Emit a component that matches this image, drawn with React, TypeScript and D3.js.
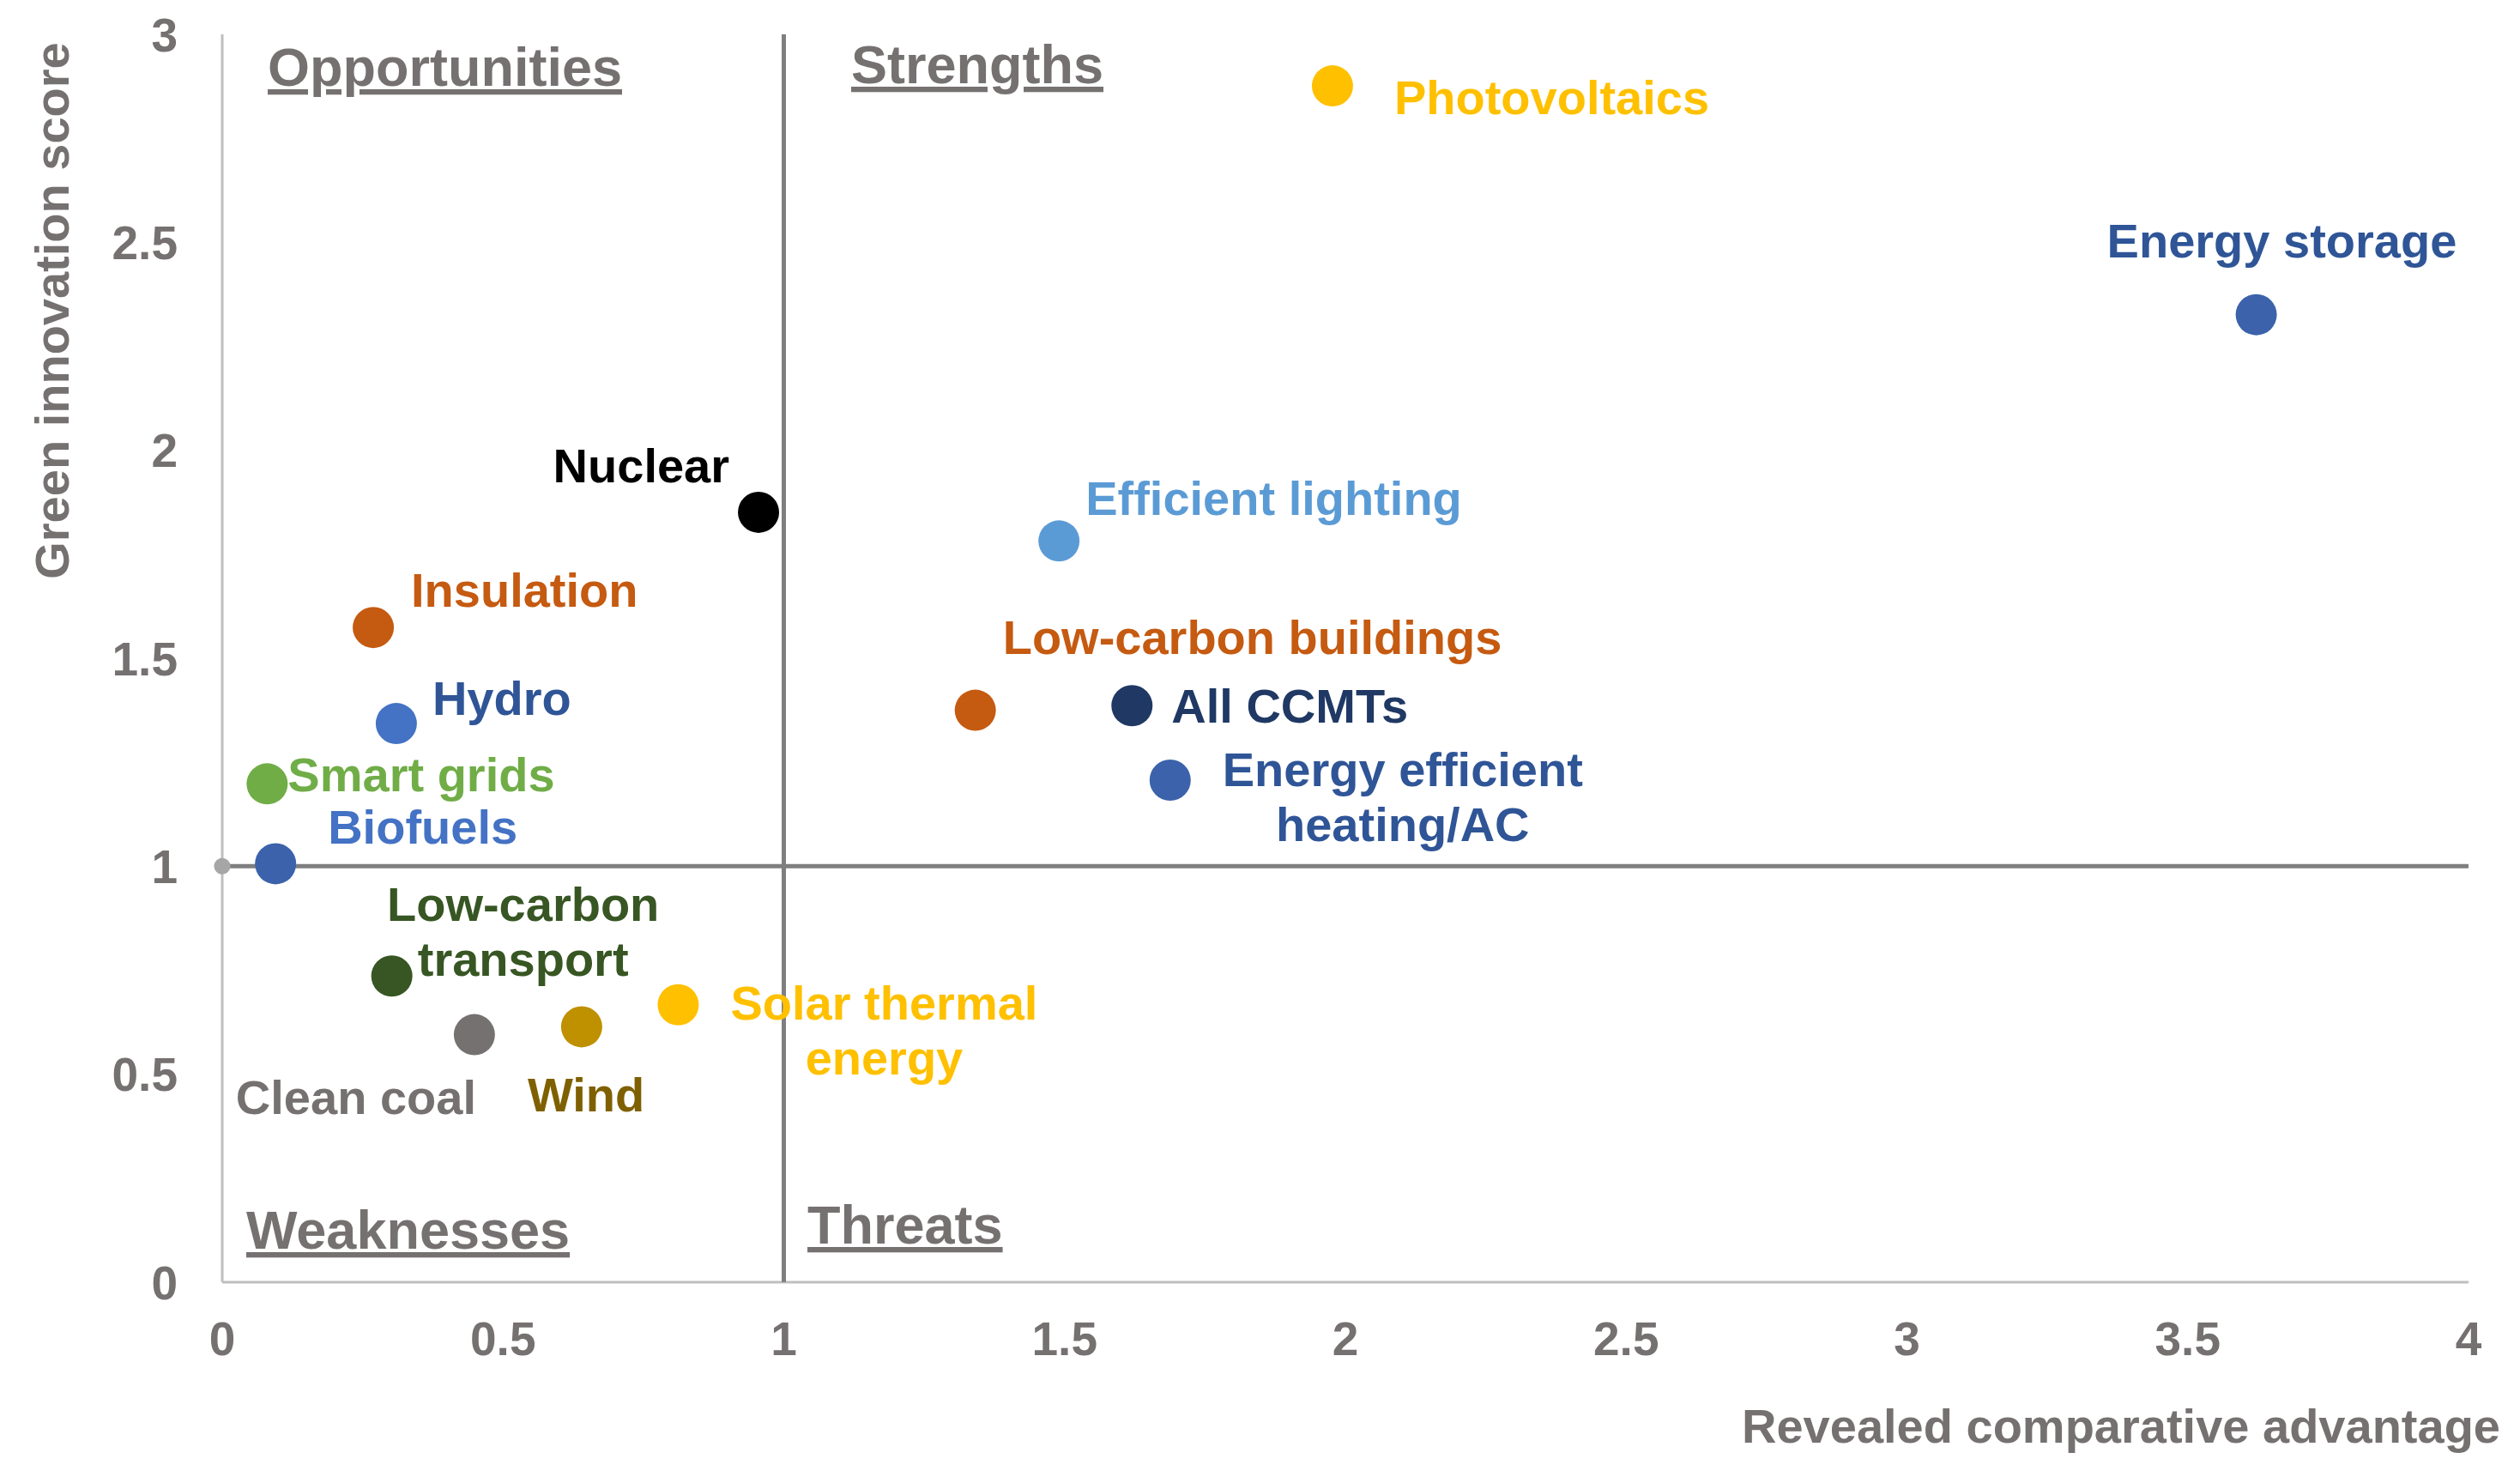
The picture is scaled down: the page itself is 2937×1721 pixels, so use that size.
import React from "react";
import * as d3 from "d3";

// ---------- data ----------
const technologies = [
  "Photovoltaics",
  "Energy storage",
  "Nuclear",
  "Efficient lighting",
  "Insulation",
  "Low-carbon buildings",
  "All CCMTs",
  "Hydro",
  "Energy efficient heating/AC",
  "Smart grids",
  "Biofuels",
  "Low-carbon transport",
  "Clean coal",
  "Wind",
  "Solar thermal energy",
];
const rcaValues = [1.977, 3.622, 0.955, 1.49, 0.269, 1.341, 1.62, 0.31, 1.688, 0.08, 0.095, 0.302, 0.449, 0.64, 0.812];
const innovationScores = [2.876, 2.326, 1.851, 1.782, 1.574, 1.375, 1.386, 1.343, 1.207, 1.198, 1.006, 0.736, 0.595, 0.614, 0.667];
const xTicks = [0, 0.5, 1, 1.5, 2, 2.5, 3, 3.5, 4];
const yTicks = [0, 0.5, 1, 1.5, 2, 2.5, 3];
const quadrantNames = ["Opportunities", "Strengths", "Weaknesses", "Threats"];

// ---------- styles / layout ----------
const dotColors = [
  "#FFC000", "#3B62AA", "#000000", "#5B9BD5", "#C55A11", "#C55A11", "#203864", "#4472C4",
  "#3B62AA", "#70AD47", "#3B62AA", "#375623", "#767171", "#BF9000", "#FFC000",
];
const labelColors = [
  "#FFC000", "#2F5597", "#000000", "#5B9BD5", "#C55A11", "#C55A11", "#203864", "#2F5597",
  "#2F5597", "#70AD47", "#4472C4", "#375623", "#767171", "#7F6000", "#FFC000",
];
// label placement relative to the point (pixels): [anchor, dx, dy(baseline of first line), lines]
const labelLayout: [string, number, number, string[]][] = [
  ["start", 72, 33, ["Photovoltaics"]],
  ["start", -174, -67, ["Energy storage"]],
  ["end", -34, -35, ["Nuclear"]],
  ["start", 31, -30, ["Efficient lighting"]],
  ["start", 44, -24, ["Insulation"]],
  ["start", 32, -66, ["Low-carbon buildings"]],
  ["start", 46, 20, ["All CCMTs"]],
  ["start", 42, -10, ["Hydro"]],
  ["middle", 271, 7, ["Energy efficient", "heating/AC"]],
  ["start", 24, 9, ["Smart grids"]],
  ["start", 61, -23, ["Biofuels"]],
  ["middle", 153, -64, ["Low-carbon", "transport"]],
  ["start", -278, 92, ["Clean coal"]],
  ["start", -63, 99, ["Wind"]],
  ["middle", 240, 17, ["Solar thermal", "energy"]],
];
const quadrantLayout: [number, number][] = [
  [312, 100],
  [992, 97],
  [287, 1455],
  [941, 1449],
];

const W = 2937;
const H = 1721;
const FONT = "'Liberation Sans', Arial, Helvetica, sans-serif";
const GREY_TEXT = "#767171";

export default function App() {
  const x = d3.scaleLinear().domain([0, 4]).range([259, 2877]);
  const y = d3.scaleLinear().domain([0, 3]).range([1494, 40]);

  return (
    <svg
      width={W}
      height={H}
      viewBox={`0 0 ${W} ${H}`}
      style={{ position: "absolute", left: 0, top: 0, background: "#fff" }}
      fontFamily={FONT}
      fontWeight="bold"
    >
      <rect width={W} height={H} fill="#fff" />
      {/* axes */}
      <line x1={x(0)} x2={x(0)} y1={y(0)} y2={y(3)} stroke="#BFBFBF" strokeWidth={3} />
      <line x1={x(0)} x2={x(4)} y1={y(0)} y2={y(0)} stroke="#BFBFBF" strokeWidth={3} />
      {/* quadrant lines */}
      <line x1={x(1)} x2={x(1)} y1={y(0)} y2={y(3)} stroke="#7F7F7F" strokeWidth={5} />
      <line x1={x(0)} x2={x(4)} y1={y(1)} y2={y(1)} stroke="#7F7F7F" strokeWidth={5} />
      <circle cx={x(0)} cy={y(1)} r={9.5} fill="#A6A6A6" />

      {/* ticks */}
      {yTicks.map((t) => (
        <text key={"y" + t} x={207} y={y(t)} dy="0.36em" textAnchor="end" fontSize={55} fill={GREY_TEXT}>
          {d3.format("~g")(t)}
        </text>
      ))}
      {xTicks.map((t) => (
        <text key={"x" + t} x={x(t)} y={1579} textAnchor="middle" fontSize={55} fill={GREY_TEXT}>
          {d3.format("~g")(t)}
        </text>
      ))}

      {/* axis titles */}
      <text x={2914} y={1681} textAnchor="end" fontSize={56} fill={GREY_TEXT}>
        Revealed comparative advantage
      </text>
      <text
        transform={`translate(80, 362) rotate(-90)`}
        textAnchor="middle"
        fontSize={56}
        fill={GREY_TEXT}
      >
        Green innovation score
      </text>

      {/* quadrant names */}
      {quadrantNames.map((q, i) => (
        <text
          key={q}
          x={quadrantLayout[i][0]}
          y={quadrantLayout[i][1]}
          fontSize={63}
          fill={GREY_TEXT}
          style={{ textDecoration: "underline" }}
        >
          {q}
        </text>
      ))}

      {/* points */}
      {technologies.map((name, i) => (
        <circle key={"c" + name} cx={x(rcaValues[i])} cy={y(innovationScores[i])} r={24} fill={dotColors[i]} />
      ))}

      {/* labels */}
      {technologies.map((name, i) => {
        const [anchor, dx, dy, lines] = labelLayout[i];
        const px = x(rcaValues[i]);
        const py = y(innovationScores[i]);
        return (
          <text
            key={"t" + name}
            x={px + dx}
            y={py + dy}
            textAnchor={anchor as any}
            fontSize={56}
            fill={labelColors[i]}
          >
            {lines.map((ln, j) => (
              <tspan key={j} x={px + dx} dy={j === 0 ? 0 : 64}>
                {ln}
              </tspan>
            ))}
          </text>
        );
      })}
    </svg>
  );
}
